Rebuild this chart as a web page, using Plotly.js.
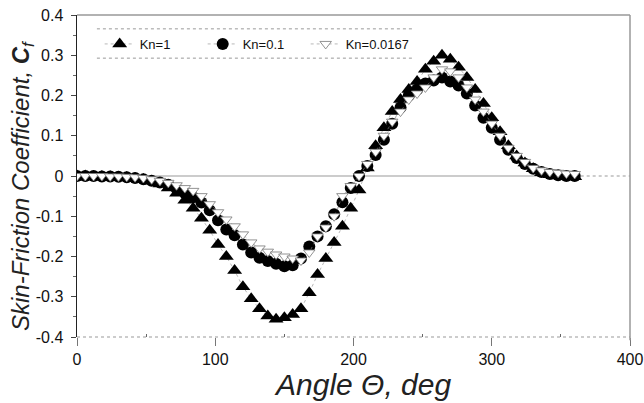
<!DOCTYPE html>
<html>
<head>
<meta charset="utf-8">
<script src="https://cdn.plot.ly/plotly-3.0.1.min.js"></script>
<style>html,body{margin:0;padding:0;background:#fff;}#chart{width:644px;height:403px;}</style>
</head>
<body>
<div id="chart"></div>
<script>
// Angle, deg (every 6 degrees)
var angle = [0,6,12,18,24,30,36,42,48,54,60,66,72,78,84,90,96,102,108,114,120,126,132,138,144,150,156,162,168,174,180,186,192,198,204,210,216,222,228,234,240,246,252,258,264,270,276,282,288,294,300,306,312,318,324,330,336,342,348,354,360];

var cfKn1 = [0.000,0.000,-0.001,-0.001,-0.002,-0.003,-0.004,-0.006,-0.009,-0.013,-0.020,-0.030,-0.043,-0.060,-0.080,-0.105,-0.135,-0.170,-0.200,-0.235,-0.275,-0.305,-0.330,-0.348,-0.356,-0.352,-0.344,-0.330,-0.290,-0.245,-0.205,-0.165,-0.125,-0.080,-0.035,0.020,0.075,0.120,0.160,0.190,0.215,0.235,0.265,0.285,0.300,0.290,0.270,0.245,0.215,0.180,0.145,0.110,0.075,0.050,0.032,0.018,0.008,0.003,0.000,-0.002,-0.002];

var cfKn01 = [0.000,0.000,0.000,-0.001,-0.001,-0.002,-0.003,-0.005,-0.008,-0.012,-0.016,-0.022,-0.032,-0.042,-0.053,-0.066,-0.085,-0.110,-0.133,-0.147,-0.170,-0.190,-0.203,-0.211,-0.218,-0.224,-0.222,-0.205,-0.175,-0.150,-0.125,-0.095,-0.065,-0.030,0.000,0.025,0.052,0.090,0.130,0.170,0.200,0.215,0.230,0.237,0.245,0.235,0.225,0.205,0.175,0.145,0.120,0.090,0.065,0.045,0.030,0.018,0.010,0.005,0.002,0.000,0.000];

var cfKn00167 = [0.000,0.000,0.000,0.000,-0.001,-0.001,-0.002,-0.003,-0.005,-0.008,-0.012,-0.017,-0.023,-0.030,-0.037,-0.050,-0.070,-0.090,-0.108,-0.125,-0.145,-0.165,-0.180,-0.188,-0.195,-0.200,-0.205,-0.210,-0.190,-0.150,-0.128,-0.100,-0.050,-0.025,0.000,0.030,0.060,0.100,0.135,0.160,0.190,0.205,0.220,0.245,0.265,0.260,0.245,0.220,0.190,0.160,0.130,0.100,0.070,0.050,0.035,0.020,0.014,0.010,0.008,0.006,0.005];

var seriesNames = ['Kn=1','Kn=0.1','Kn=0.0167'];
var yTickVals = [0.4,0.3,0.2,0.1,0,-0.1,-0.2,-0.3,-0.4];
var yTickText = ['0.4','0.3','0.2','0.1','0','-0.1','-0.2','-0.3','-0.4'];
var xTickVals = [0,100,200,300,400];
var xTitle = '<i>Angle Θ, deg</i>';
var yTitle = '<i>Skin-Friction Coefficient, <b>C</b><sub>f</sub></i>';

var lineStyle = {color:'#888', width:0.6, dash:'dot'};

var traces = [
  {x:angle, y:cfKn1, name:seriesNames[0], type:'scatter', mode:'lines+markers',
   line:lineStyle, marker:{symbol:'triangle-up', size:13, color:'#000', line:{width:0}}},
  {x:angle, y:cfKn01, name:seriesNames[1], type:'scatter', mode:'lines+markers',
   line:lineStyle, marker:{symbol:'circle', size:12, color:'#000', line:{width:0}}},
  {x:angle, y:cfKn00167, name:seriesNames[2], type:'scatter', mode:'lines+markers',
   line:lineStyle, marker:{symbol:'triangle-down', size:10, color:'#fff', line:{width:0.8, color:'#777'}}}
];

var layout = {
  width:644, height:403,
  margin:{l:77, r:14, t:15, b:66},
  paper_bgcolor:'#fff', plot_bgcolor:'#fff',
  font:{family:'Liberation Sans, Arial, sans-serif', color:'#111', size:16},
  showlegend:true,
  legend:{orientation:'h', x:0.041, y:0.91, xanchor:'left', yanchor:'middle',
          font:{size:13, color:'#111'}, bgcolor:'rgba(0,0,0,0)', borderwidth:0,
          entrywidth:58, entrywidthmode:'pixels', itemclick:false},
  xaxis:{range:[0,400], tickvals:xTickVals, ticks:'outside', ticklen:8, tickcolor:'#777',
         showgrid:false, zeroline:false, showline:false,
         minor:{tickvals:[50,150,250,350], ticks:'inside', ticklen:3, tickcolor:'#666'},
         tickfont:{size:16}, fixedrange:true},
  yaxis:{range:[-0.4,0.4], tickvals:yTickVals, ticktext:yTickText.map(function(t){return t+'\u00a0';}),
         ticks:'outside', ticklen:5, tickcolor:'#444',
         showgrid:false, zeroline:false, showline:true, linecolor:'#222', linewidth:1,
         minor:{tickvals:[0.35,0.25,0.15,0.05,-0.05,-0.15,-0.25,-0.35], ticks:'outside', ticklen:3, tickcolor:'#666'},
         tickfont:{size:16}, fixedrange:true},
  annotations:[
    {text:xTitle, xref:'paper', yref:'paper', x:0.517, y:-0.147, xanchor:'center', yanchor:'middle',
     showarrow:false, font:{size:30, color:'#222'}},
    {text:yTitle, xref:'paper', yref:'paper', x:-0.0995, y:0.472, xanchor:'center', yanchor:'middle',
     textangle:-90, showarrow:false, font:{size:24, color:'#222'}}
  ],
  shapes:[
    {type:'line', xref:'paper', yref:'paper', x0:0, x1:1, y0:1, y1:1, line:{color:'#999', width:1.5}},
    {type:'line', xref:'paper', yref:'paper', x0:1, x1:1, y0:-0.01, y1:1, line:{color:'#999', width:1.5}},
    {type:'line', xref:'paper', yref:'paper', x0:0, x1:1, y0:0, y1:0, line:{color:'#999', width:1, dash:'dot'}},
    {type:'line', xref:'x', yref:'y', x0:0, x1:360, y0:0, y1:0, line:{color:'#999', width:1.2}, layer:'below'},
    {type:'line', xref:'x', yref:'y', x0:360, x1:400, y0:0, y1:0, line:{color:'#999', width:1, dash:'dot'}, layer:'below'},
    {type:'line', xref:'paper', yref:'paper', x0:0.036, x1:0.611, y0:0.957, y1:0.957, line:{color:'#999', width:1, dash:'dot'}},
    {type:'line', xref:'paper', yref:'paper', x0:0.036, x1:0.611, y0:0.866, y1:0.866, line:{color:'#999', width:1, dash:'dot'}}
  ]
};

Plotly.newPlot('chart', traces, layout, {displayModeBar:false, staticPlot:true});
</script>
</body>
</html>
